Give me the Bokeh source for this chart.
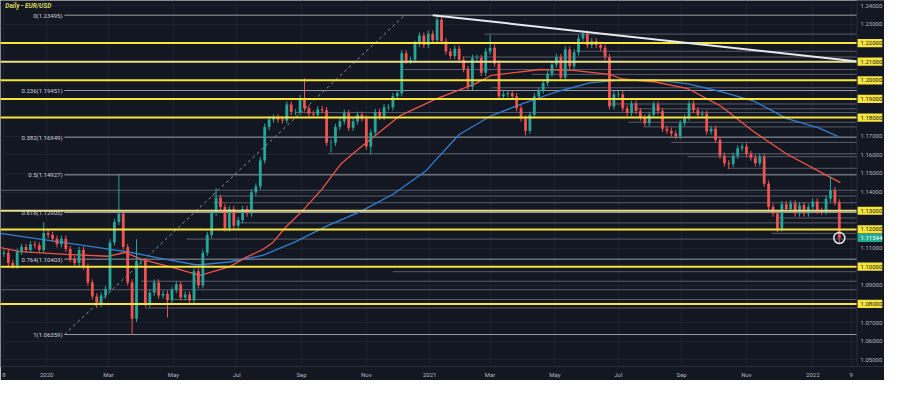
from bokeh.plotting import figure
from bokeh.models import Range1d, FixedTicker, Label
from bokeh.core.properties import value
from bokeh.embed import file_html
from bokeh.resources import INLINE

# ---------------- data ----------------
# 3-trading-day candles; bar index = trading days since 2020-01-01
first_bar = -29
bar_step = 3
first_open = 1.1070
closes = [
    1.1075, 1.1020, 1.1005, 1.1080, 1.1105, 1.1090, 1.1120, 1.1115, 1.1090, 1.1180,
    1.1170, 1.1150, 1.1120, 1.1150, 1.1095, 1.1040, 1.1020, 1.1090, 1.1000, 1.0915,
    1.0840, 1.0800, 1.0845, 1.0880, 1.1130, 1.1240, 1.1285, 1.1105, 1.0915, 1.0720,
    1.1030, 1.1030, 1.0800, 1.0860, 1.0915, 1.0845, 1.0855, 1.0820, 1.0875, 1.0905,
    1.0835, 1.0850, 1.0820, 1.0975, 1.0900, 1.1075, 1.1170, 1.1290, 1.1370, 1.1320,
    1.1205, 1.1310, 1.1220, 1.1250, 1.1310, 1.1285, 1.1400, 1.1430, 1.1570, 1.1750,
    1.1790, 1.1800, 1.1790, 1.1785, 1.1870, 1.1830, 1.1830, 1.1905, 1.1850, 1.1820,
    1.1815, 1.1845, 1.1840, 1.1665, 1.1665, 1.1750, 1.1780, 1.1825, 1.1745, 1.1780,
    1.1815, 1.1795, 1.1645, 1.1720, 1.1830, 1.1805, 1.1855, 1.1855, 1.1915, 1.1930,
    1.2145, 1.2105, 1.2110, 1.2195, 1.2240, 1.2190, 1.2250, 1.2215, 1.2325, 1.2210,
    1.2155, 1.2130, 1.2170, 1.2110, 1.2060, 1.1965, 1.2120, 1.2120, 1.2040, 1.2155,
    1.2175, 1.2090, 1.1915, 1.1925, 1.1930, 1.1915, 1.1850, 1.1795, 1.1730, 1.1815,
    1.1915, 1.1945, 1.1985, 1.2035, 1.2085, 1.2125, 1.2015, 1.2165, 1.2075, 1.2150,
    1.2225, 1.2250, 1.2190, 1.2210, 1.2190, 1.2175, 1.2125, 1.1860, 1.1925, 1.1925,
    1.1850, 1.1825, 1.1875, 1.1835, 1.1800, 1.1770, 1.1815, 1.1870, 1.1835, 1.1740,
    1.1730, 1.1715, 1.1700, 1.1770, 1.1800, 1.1875, 1.1840, 1.1815, 1.1820, 1.1725,
    1.1740, 1.1680, 1.1595, 1.1555, 1.1550, 1.1595, 1.1635, 1.1645, 1.1605, 1.1585,
    1.1555, 1.1590, 1.1445, 1.1320, 1.1285, 1.1205, 1.1335, 1.1310, 1.1340, 1.1285,
    1.1330, 1.1285, 1.1320, 1.1350, 1.1300, 1.1295, 1.1365, 1.1410, 1.1345, 1.1154,
]
wick = 0.0017
high_extremes = {9: 1.1239, 26: 1.1495, 30: 1.1147, 48: 1.1422, 68: 1.2011,
                 98: 1.2349, 110: 1.2243, 131: 1.2266, 187: 1.1482}
low_extremes = {21: 1.0778, 29: 1.0636, 37: 1.0727, 74: 1.1612, 83: 1.1603,
                118: 1.1704, 164: 1.1524, 175: 1.1186, 189: 1.1121}

ma100_bars = [-31.3, -18, 13.3, 42, 53.3, 64, 84, 104, 124, 135.3, 146.7, 153.3, 162,
              173.3, 186.7, 200, 213.3, 240, 264, 290.7, 302, 335.3, 357.3, 382,
              390.7, 413.3, 435.3, 457.3, 480, 502, 524, 538.7]
ma100_vals = [1.1102, 1.1081, 1.1066, 1.1056, 1.1076, 1.1040, 1.0999, 1.0953, 1.0999,
              1.1050, 1.1092, 1.1128, 1.1210, 1.1297, 1.1415, 1.1554, 1.1642, 1.1811,
              1.1899, 1.1981, 1.2027, 1.2058, 1.2053, 1.2032, 1.2007, 1.1991, 1.1955,
              1.1863, 1.1724, 1.1606, 1.1513, 1.1451]
ma200_bars = [-31.3, -9.3, 13.3, 35.3, 57.3, 80, 102, 124, 146.7, 168.7, 190.7, 213.3,
              235.3, 257.3, 262, 280, 302, 324, 346.7, 368.7, 390.7, 413.3, 435.3,
              457.3, 480, 502, 524, 537.3]
ma200_vals = [1.1179, 1.1153, 1.1128, 1.1102, 1.1076, 1.1040, 1.1009, 1.1025, 1.1061,
              1.1133, 1.1220, 1.1297, 1.1390, 1.1513, 1.1554, 1.1709, 1.1811, 1.1878,
              1.1940, 1.1986, 1.2002, 1.2002, 1.1981, 1.1940, 1.1889, 1.1796, 1.1745,
              1.1698]

yellow_levels = [1.22, 1.21, 1.20, 1.19, 1.18, 1.13, 1.12, 1.10, 1.08]
yellow_pale = [False, True, False, False, False, True, False, False, False]

fib_ratios = ["0", "0.236", "0.382", "0.5", "0.618", "0.764", "1"]
fib_prices = [1.23495, 1.19451, 1.16949, 1.14927, 1.12905, 1.10403, 1.06359]
fib_start_bar = 12
fib_diag_bars = [12, 243]
fib_diag_prices = [1.06359, 1.23495]

sr_levels = [1.2248, 1.2156, 1.2125, 1.2058, 1.2032, 1.1960, 1.1873, 1.1847, 1.1827,
             1.1775, 1.1750, 1.1667, 1.1606, 1.1590, 1.1528, 1.1410, 1.1379, 1.1343,
             1.1261, 1.1235, 1.1179, 1.1148, 1.0973, 1.0922, 1.0876, 1.0824, 1.0778]
sr_start_bars = [297, 359, 282, 242, 329, 302, 382, 399, 169, 395, 405, 424, 191, 435,
                 462, -32, 112, 113, 495, 129, 492, 95, 235, 64, -32, 85, 67]

trend_bars = [262, 560]
trend_prices = [1.23495, 1.2093]

x_tick_bars = [-29, 0, 42, 86, 129, 173, 217, 260, 301, 345, 388, 431, 475, 520, 546]
x_tick_labels = ["8", "2020", "Mar", "May", "Jul", "Sep", "Nov", "2021", "Mar", "May",
                 "Jul", "Sep", "Nov", "2022", "9"]
y_ticks = [1.05, 1.06, 1.07, 1.08, 1.09, 1.10, 1.11, 1.12, 1.13, 1.14, 1.15, 1.16,
           1.17, 1.18, 1.19, 1.20, 1.21, 1.22, 1.23, 1.24]
last_price = 1.11544
title_text = "Daily - EUR/USD"

# ---------------- derived candle arrays ----------------
n = len(closes)
xs = [first_bar + bar_step * i for i in range(n)]
opens = [first_open] + closes[:-1]
tops = [max(o, c) for o, c in zip(opens, closes)]
bots = [min(o, c) for o, c in zip(opens, closes)]
highs = [high_extremes.get(i, tops[i] + wick) for i in range(n)]
lows = [low_extremes.get(i, bots[i] - wick) for i in range(n)]
UP, DOWN = "#26a69a", "#ef5350"
cols = [UP if c >= o else DOWN for o, c in zip(opens, closes)]
bots = [b if t - b > 0.0004 else b - 0.0002 for t, b in zip(tops, bots)]

BG = "#131722"
FONT = "Roboto"
X0 = -31.33          # left edge of the chart
X1 = 550.0           # right edge of the price pane (start of price scale strip)
XE = 568.67          # right edge of the canvas
Y0, Y1 = 1.04643, 1.24283
FS = value("6px")

p = figure(width=884, height=380, output_backend="svg", toolbar_location=None,
           x_range=Range1d(X0, XE), y_range=Range1d(Y0, Y1),
           y_axis_location=None, min_border_left=0, min_border_top=0,
           min_border_right=0, min_border_bottom=14,
           background_fill_color=BG, border_fill_color=BG, outline_line_color=None)

# x axis
ax = p.xaxis[0]
ax.ticker = FixedTicker(ticks=x_tick_bars)
ax.major_label_overrides = {t: l for t, l in zip(x_tick_bars, x_tick_labels)}
ax.major_label_text_font = FONT
ax.major_label_text_font_size = "6px"
ax.major_label_text_color = "#b2b5be"
ax.major_tick_line_color = None
ax.minor_tick_line_color = None
ax.major_tick_out = 0
ax.major_tick_in = 0
ax.minor_tick_out = 0
ax.minor_tick_in = 0
ax.axis_line_color = "#2a2e39"
ax.major_label_standoff = 4
p.xgrid.ticker = FixedTicker(ticks=x_tick_bars)
p.ygrid.ticker = FixedTicker(ticks=y_ticks)
p.xgrid.grid_line_color = "#1e2230"
p.ygrid.grid_line_color = "#1e2230"

XR = X1 + 2
# support / resistance lines
p.segment(x0=sr_start_bars, x1=[XR] * len(sr_levels), y0=sr_levels, y1=sr_levels,
          line_color="#5a5d69", line_width=1)
# fib lines
p.segment(x0=[fib_start_bar] * len(fib_prices), x1=[XR] * len(fib_prices),
          y0=fib_prices, y1=fib_prices, line_color="#9a9ca5", line_width=1)
p.line(fib_diag_bars, fib_diag_prices, line_color="#8a8d96", line_width=1,
       line_dash="3 3")

# moving averages
p.line(ma200_bars, ma200_vals, line_color="#2f7fd3", line_width=1.3)
p.line(ma100_bars, ma100_vals, line_color="#ee5446", line_width=1.3)

# candles
p.segment(x0=xs, x1=xs, y0=lows, y1=highs, line_color=cols, line_width=1)
p.vbar(x=xs, top=tops, bottom=bots, width=1.9, fill_color=cols, line_color=None)

# yellow horizontal levels
for lv, pale in zip(yellow_levels, yellow_pale):
    p.line([X0 - 10, XR], [lv, lv], line_color="#e9dd88" if pale else "#f7e43d",
           line_width=2)

# trend line
p.line(trend_bars, trend_prices, line_color="#e6e8ee", line_width=2)

# last price marker
p.scatter([xs[-1]], [closes[-1]], marker="circle", size=11, fill_color=None,
          line_color="#e6e8ee", line_width=1.5)

# price-scale strip on the right
p.quad(left=[X1], right=[XE + 5], bottom=[Y0 - 1], top=[Y1 + 1], fill_color=BG,
       line_color=None)
p.segment(x0=[X1], x1=[X1], y0=[Y0 - 1], y1=[Y1 + 1], line_color="#2a2e39",
          line_width=1)
LX = X1 + 2.4
p.text(x=[LX] * len(y_ticks), y=y_ticks, text=[f"{t:.5f}" for t in y_ticks],
       text_font=value(FONT), text_font_size=FS, text_color="#b2b5be",
       text_align="left", text_baseline="middle")
BH = 0.0022
p.quad(left=[X1 + 0.4] * len(yellow_levels), right=[XE - 1.5] * len(yellow_levels),
       bottom=[lv - BH for lv in yellow_levels], top=[lv + BH for lv in yellow_levels],
       fill_color="#f7e43d", line_color=None)
p.text(x=[LX] * len(yellow_levels), y=yellow_levels,
       text=[f"{lv:.5f}" for lv in yellow_levels], text_font=value(FONT),
       text_font_size=FS, text_color="#131722", text_align="left",
       text_baseline="middle")
p.quad(left=[X1 + 0.4], right=[XE - 1.5], bottom=[last_price - BH],
       top=[last_price + BH], fill_color="#22ab94", line_color=None)
p.text(x=[LX], y=[last_price], text=[f"{last_price:.5f}"], text_font=value(FONT),
       text_font_size=FS, text_color="#ffffff", text_align="left",
       text_baseline="middle")

# fib labels
for r, pr in zip(fib_ratios, fib_prices):
    p.add_layout(Label(x=fib_start_bar - 1.2, y=pr, text=f"{r}({pr:.5f})",
                       text_align="right", text_baseline="middle",
                       text_font=FONT, text_font_size="6px", text_color="#d1d4dc"))

# title
p.add_layout(Label(x=X0 + 3.3, y=1.2397, text=title_text, text_align="left",
                   text_baseline="middle", text_font=FONT, text_font_size="6.5px",
                   text_font_style="bold italic", text_color="#dcd55a"))

open("out.html", "w").write(file_html(p, INLINE))
